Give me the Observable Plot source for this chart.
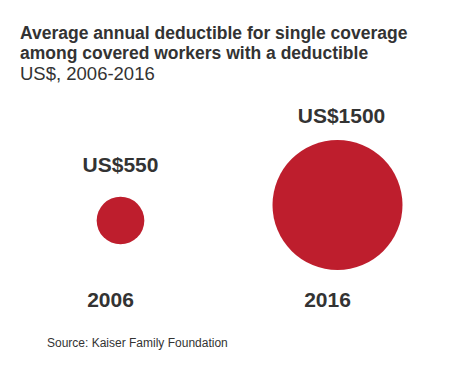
<!DOCTYPE html>
<html>
<head>
<meta charset="utf-8">
<script src="https://cdn.jsdelivr.net/npm/d3@7"></script>
<script src="https://cdn.jsdelivr.net/npm/@observablehq/plot@0.6"></script>
<style>
  body { margin: 0; background: #fff; font-family: "Liberation Sans", Arial, sans-serif; color: #333; }
  #wrap { width: 462px; height: 366px; position: relative; overflow: hidden; }
  #head { height: 86px; padding-left: 20px; box-sizing: border-box; padding-top: 23px; }
  #title { font-weight: bold; font-size: 17.5px; line-height: 20px; margin: 0; }
  #sub { font-size: 18.5px; line-height: 22px; margin: 0; }
  #cap { font-size: 12px; line-height: 16px; padding-left: 47px; margin-top: 9px; }
  svg { display: block; }
</style>
</head>
<body>
<div id="wrap">
  <div id="head">
    <div id="title">Average annual deductible for single coverage<br>among covered workers with a deductible</div>
    <div id="sub">US$, 2006-2016</div>
  </div>
  <div id="chart"></div>
  <div id="cap">Source: Kaiser Family Foundation</div>
</div>
<script>
const years = ["2006", "2016"];
const deductibles = [550, 1500];
const valueLabels = ["US$550", "US$1500"];

const data = years.map((y, i) => ({year: y, value: deductibles[i], label: valueLabels[i]}));

const red = "#be1e2d";
const ink = "#333333";
const rRange = [0, 65];
const rScale = d3.scaleLinear().domain([0, 1500]).range(rRange);

const marks = [
  Plot.dot(data, {x: "year", y: "value", r: "value", fill: red, stroke: "none"}),
  ...data.map(d => Plot.text([d], {
    x: "year", y: "value", text: "label",
    dy: -(0.83 * rScale(d.value) + 28.5), dx: d.value > 1000 ? 4 : 0, lineAnchor: "bottom",
    fontSize: 21, fontWeight: "bold", fill: ink
  })),
  Plot.text(data, {
    x: "year", text: "year", frameAnchor: "bottom", lineAnchor: "bottom",
    dx: -10, fontSize: 21, fontWeight: "bold", fill: ink
  })
];

const chart = Plot.plot({
  width: 462,
  height: 240,
  marginTop: 0, marginBottom: 20, marginLeft: 0, marginRight: 0,
  style: {fontFamily: "'Liberation Sans', Arial, sans-serif", background: "#fff"},
  x: {type: "point", domain: years, range: [120, 337], padding: 0, align: 0.5, axis: null},
  y: {type: "linear", domain: [0, 1500], range: [143, 118.5], axis: null},
  r: {type: "linear", domain: [0, 1500], range: rRange},
  marks
});
document.getElementById("chart").appendChild(chart);
</script>
</body>
</html>
